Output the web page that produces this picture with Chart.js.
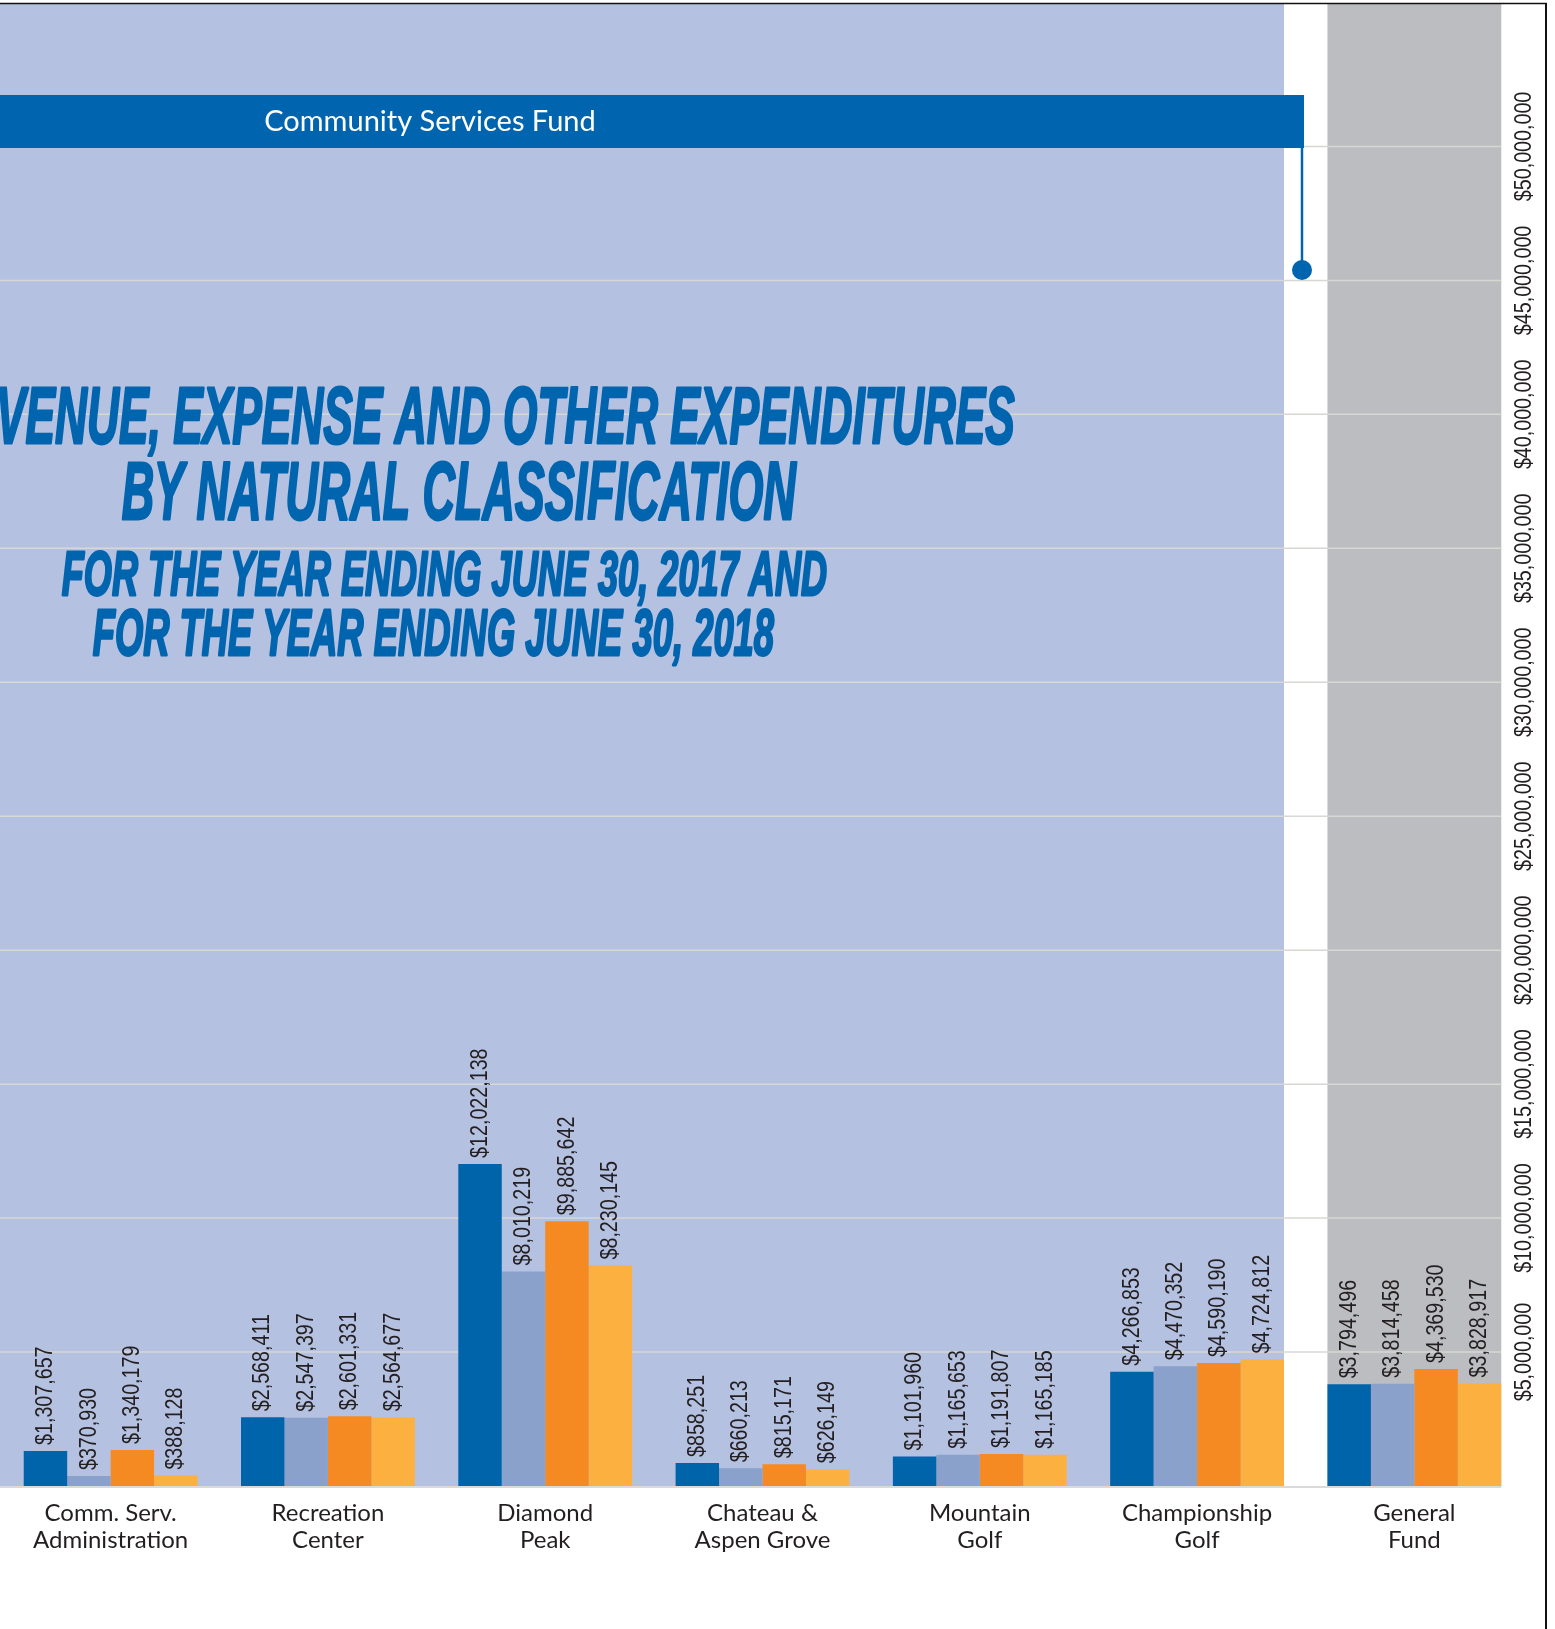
<!DOCTYPE html>
<html>
<head>
<meta charset="utf-8">
<script src="https://cdn.jsdelivr.net/npm/chart.js@4.4.1/dist/chart.umd.min.js"></script>
<style>
html,body{margin:0;padding:0;background:#ffffff;}
#wrap{position:relative;width:1555px;height:1629px;}
</style>
</head>
<body>
<div id="wrap"><canvas id="c"></canvas></div>
<script>
// ---------- data ----------
const categories = [
  ['Comm. Serv.', 'Administration'],
  ['Recreation', 'Center'],
  ['Diamond', 'Peak'],
  ['Chateau &', 'Aspen Grove'],
  ['Mountain', 'Golf'],
  ['Championship', 'Golf'],
  ['General', 'Fund']
];
const seriesNames = ['2017 Revenue', '2017 Expense & Other Expenditures', '2018 Revenue', '2018 Expense & Other Expenditures'];
const series2017A = [1307657, 2568411, 12022138, 858251, 1101960, 4266853, 3794496];
const series2017B = [370930, 2547397, 8010219, 660213, 1165653, 4470352, 3814458];
const series2018A = [1340179, 2601331, 9885642, 815171, 1191807, 4590190, 4369530];
const series2018B = [388128, 2564677, 8230145, 626149, 1165185, 4724812, 3828917];
const yTicks = [5000000, 10000000, 15000000, 20000000, 25000000, 30000000, 35000000, 40000000, 45000000, 50000000];
const fundLabel = 'Community Services Fund';
const titleLines = [
  'REVENUE, EXPENSE AND OTHER EXPENDITURES',
  'BY NATURAL CLASSIFICATION',
  'FOR THE YEAR ENDING JUNE 30, 2017 AND',
  'FOR THE YEAR ENDING JUNE 30, 2018'
];

// ---------- styles ----------
const BAR_COLORS = ['#0064AA', '#8AA1CC', '#F58A22', '#FBB040'];
const BLUE_BG = '#B5C1E0';
const GRAY_BG = '#BCBDC0';
const GRID = '#D7D7D3';
const INK = '#231F20';
const BRAND = '#0065AE';
const NARROW = 0.82;

const money = v => '$' + v.toLocaleString('en-US');

function fitLine(ctx, text, visible, x0, x1, baseY, capH) {
  const px = capH / 0.716;
  ctx.font = 'italic bold ' + px + 'px "Liberation Sans", Arial, sans-serif';
  const w = ctx.measureText(visible).width;
  const slant = capH * 0.02;
  const sx = (x1 - x0 - slant) / w;
  ctx.save();
  ctx.translate(x1 - slant, baseY);
  ctx.scale(sx, 1);
  ctx.textAlign = 'right';
  ctx.textBaseline = 'alphabetic';
  ctx.fillStyle = BRAND;
  ctx.strokeStyle = BRAND;
  ctx.lineJoin = 'round';
  ctx.lineWidth = 2.8;
  ctx.fillText(text, 0, 0);
  ctx.strokeText(text, 0, 0);
  ctx.restore();
}

function narrowText(ctx, txt, x, y, align) {
  ctx.save();
  ctx.translate(x, y);
  ctx.rotate(-Math.PI / 2);
  ctx.scale(NARROW, 1);
  ctx.textAlign = align;
  ctx.textBaseline = 'middle';
  ctx.fillText(txt, 0, 0);
  ctx.restore();
}

const decor = {
  id: 'decor',
  beforeDatasetsDraw(chart) {
    const ctx = chart.ctx;
    const y = chart.scales.y;
    const n = categories.length;
    const m0 = chart.getDatasetMeta(0), m3 = chart.getDatasetMeta(3);
    const champ = m3.data[n - 2], genA = m0.data[n - 1], genB = m3.data[n - 1];
    const blueRight = champ.x + champ.width / 2;
    const grayLeft = genA.x - genA.width / 2;
    const grayRight = genB.x + genB.width / 2;
    const top = 4;
    const base = y.getPixelForValue(0);
    ctx.save();
    ctx.fillStyle = BLUE_BG;
    ctx.fillRect(0, top, blueRight, base - top);
    ctx.fillStyle = GRAY_BG;
    ctx.fillRect(grayLeft, top, grayRight - grayLeft, base - top);

    // grid lines
    ctx.strokeStyle = GRID;
    ctx.lineWidth = 1.5;
    yTicks.forEach(v => {
      const py = y.getPixelForValue(v);
      ctx.beginPath(); ctx.moveTo(0, py); ctx.lineTo(grayRight, py); ctx.stroke();
    });
    ctx.lineWidth = 2;
    ctx.strokeStyle = '#DADADA';
    ctx.beginPath(); ctx.moveTo(0, base + 1); ctx.lineTo(grayRight, base + 1); ctx.stroke();

    // fund banner
    ctx.fillStyle = BRAND;
    ctx.fillRect(0, 95, 1304, 53);
    ctx.strokeStyle = BRAND;
    ctx.lineWidth = 2.5;
    ctx.beginPath(); ctx.moveTo(1302, 148); ctx.lineTo(1302, 270); ctx.stroke();
    ctx.beginPath(); ctx.arc(1302, 270, 10, 0, Math.PI * 2); ctx.fill();
    ctx.fillStyle = '#FFFFFF';
    ctx.font = '29px Lato';
    ctx.textAlign = 'center';
    ctx.textBaseline = 'alphabetic';
    ctx.fillText(fundLabel, 430, 131);

    // title
    fitLine(ctx, titleLines[0], titleLines[0].slice(2), -4, 1016, 442.7, 57.7);
    fitLine(ctx, titleLines[1], titleLines[1], 121.7, 797, 519, 58.3);
    fitLine(ctx, titleLines[2], titleLines[2], 61.7, 828, 595.3, 45.3);
    fitLine(ctx, titleLines[3], titleLines[3], 92.7, 775, 655.3, 46);
    ctx.restore();
  },
  afterDatasetsDraw(chart) {
    const ctx = chart.ctx;
    const y = chart.scales.y;
    ctx.save();
    ctx.fillStyle = INK;
    ctx.font = '24px "Liberation Sans", Arial, sans-serif';
    chart.data.datasets.forEach((ds, di) => {
      chart.getDatasetMeta(di).data.forEach((el, i) => {
        narrowText(ctx, money(ds.data[i]), el.x, el.y - 6, 'left');
      });
    });
    // y tick labels (rotated, right side)
    const lx = chart.chartArea.right + 1;
    yTicks.forEach(v => {
      narrowText(ctx, money(v), lx, y.getPixelForValue(v), 'center');
    });
    // frame
    ctx.strokeStyle = '#111111';
    ctx.lineWidth = 1.5;
    ctx.beginPath(); ctx.moveTo(0, 3.5); ctx.lineTo(1547, 3.5); ctx.stroke();
    ctx.lineWidth = 2;
    ctx.beginPath(); ctx.moveTo(1546, 3); ctx.lineTo(1546, 1629); ctx.stroke();
    ctx.restore();
  }
};

function make() {
  const seriesData = [series2017A, series2017B, series2018A, series2018B];
  new Chart(document.getElementById('c'), {
    type: 'bar',
    data: {
      labels: categories,
      datasets: seriesData.map((d, i) => ({
        label: seriesNames[i],
        data: d,
        backgroundColor: BAR_COLORS[i],
        borderWidth: 0,
        categoryPercentage: 0.8,
        barPercentage: 1.0
      }))
    },
    options: {
      responsive: true,
      maintainAspectRatio: false,
      animation: false,
      events: [],
      layout: { padding: { left: 2, right: 32, top: 12.5, bottom: 0 } },
      plugins: { legend: { display: false }, tooltip: { enabled: false }, title: { display: false } },
      scales: {
        x: {
          type: 'category',
          offset: true,
          grid: { display: false, drawTicks: false },
          border: { display: false },
          ticks: {
            font: { family: 'Lato', size: 24, lineHeight: 1.11 },
            color: INK,
            padding: 14,
            maxRotation: 0,
            minRotation: 0,
            autoSkip: false
          },
          afterFit(s) { s.height = 143; }
        },
        y: {
          display: false,
          min: 0,
          max: 55000000,
          ticks: { stepSize: 5000000 }
        }
      }
    },
    plugins: [decor]
  });
}

const fontsReady = [
  '24px Lato', '29px Lato', '24px "Liberation Sans"', 'italic bold 80px "Liberation Sans"'
].map(f => document.fonts.load(f));
Promise.all(fontsReady).then(make, make);
</script>
</body>
</html>
